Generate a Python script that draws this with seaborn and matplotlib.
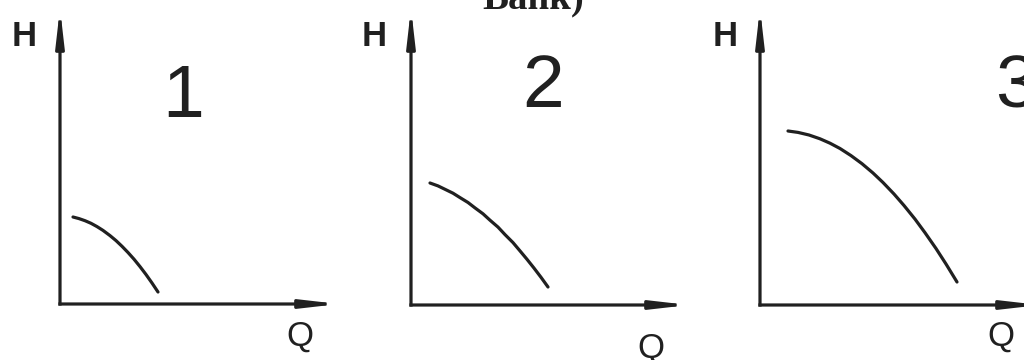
import matplotlib
matplotlib.use("Agg")
import matplotlib.pyplot as plt
import seaborn as sns
import pandas as pd

# ---- data (arbitrary units, origin at each axis corner) ----
panel_labels = ["1", "2", "3"]
q1 = [13, 19, 25, 31, 37, 43, 50, 56, 62, 68, 74, 80, 86, 92, 98]
h1 = [87.0, 85.4, 83.3, 80.7, 77.4, 73.6, 68.4, 63.4, 57.7, 51.5, 44.8, 37.4, 29.5, 21.0, 12.0]
q2 = [19, 27, 34, 42, 49, 57, 64, 72, 79, 87, 94, 102, 109, 116, 123, 130, 137]
h2 = [122.0, 119.1, 115.7, 111.8, 107.4, 102.5, 97.1, 91.2, 84.8, 77.9, 70.4, 62.4, 54.1, 45.7, 36.9, 27.7, 18.0]
q3 = [28, 38, 49, 60, 70, 80, 91, 102, 113, 123, 134, 144, 155, 165, 176, 186, 197]
h3 = [174.0, 172.6, 170.0, 166.2, 161.8, 156.5, 149.4, 141.3, 132.0, 122.5, 111.0, 99.5, 85.9, 72.3, 56.5, 41.0, 23.0]
x_title = "Q"
y_title = "H"
top_caption = "Bank)"

curves = [(q1, h1), (q2, h2), (q3, h3)]

sns.set_theme(style="white")
plt.rcParams["font.family"] = ["Liberation Sans", "DejaVu Sans"]

W, H = 1024, 360
fig = plt.figure(figsize=(W / 100, H / 100), dpi=100)
fig.patch.set_facecolor("white")

INK = "#202020"

# layout in pixels: origin x, origin y, x-axis end, y-axis top
frames = [(60, 304, 339, 8), (411, 305, 689, 8), (760, 305, 1040, 8)]
h_pos = [(24, 46), (374, 46), (725, 46)]
q_pos = [(300, 346), (651, 358), (1001, 346)]
num_pos = [(183, 117), (543, 107), (1016, 107)]

for i, ((q, h), (ox, oy, xe, yt)) in enumerate(zip(curves, frames)):
    ax = fig.add_axes([ox / W, (H - oy) / H, (xe - ox) / W, (oy - yt) / H])
    ax.set_facecolor("none")
    df = pd.DataFrame({"Q": q, "H": h})
    sns.lineplot(data=df, x="Q", y="H", ax=ax, color=INK, linewidth=2.3,
                 sort=True, solid_capstyle="round", solid_joinstyle="round")
    ax.set_xlim(0, xe - ox)
    ax.set_ylim(0, oy - yt)
    for s in ax.spines.values():
        s.set_visible(False)
    ax.set_xticks([])
    ax.set_yticks([])
    ax.set_xlabel("")
    ax.set_ylabel("")
    arrow = dict(arrowstyle="-|>,head_length=2.1,head_width=0.24", lw=2.3,
                 color=INK, shrinkA=0, shrinkB=0, mutation_scale=10,
                 capstyle="projecting")
    ax.annotate("", xy=(1, 0), xytext=(0, 0), xycoords="axes fraction",
                arrowprops=arrow, annotation_clip=False)
    ax.annotate("", xy=(0, 1), xytext=(0, 0), xycoords="axes fraction",
                arrowprops=arrow, annotation_clip=False)

for (x, y) in h_pos:
    fig.text(x / W, 1 - y / H, y_title, ha="center", va="baseline",
             fontsize=25, color=INK, fontweight="bold")
for (x, y) in q_pos:
    fig.text(x / W, 1 - y / H, x_title, ha="center", va="baseline",
             fontsize=25, color=INK)
for lab, (x, y) in zip(panel_labels, num_pos):
    fig.text(x / W, 1 - y / H, lab, ha="center", va="baseline",
             fontsize=54, color=INK)

fig.text(533 / W, 1 - 8 / H, top_caption, ha="center", va="baseline",
         fontsize=28, color=INK, fontweight="bold",
         family=["Liberation Serif", "DejaVu Serif"])

fig.savefig("out.png", dpi=100, facecolor="white")
